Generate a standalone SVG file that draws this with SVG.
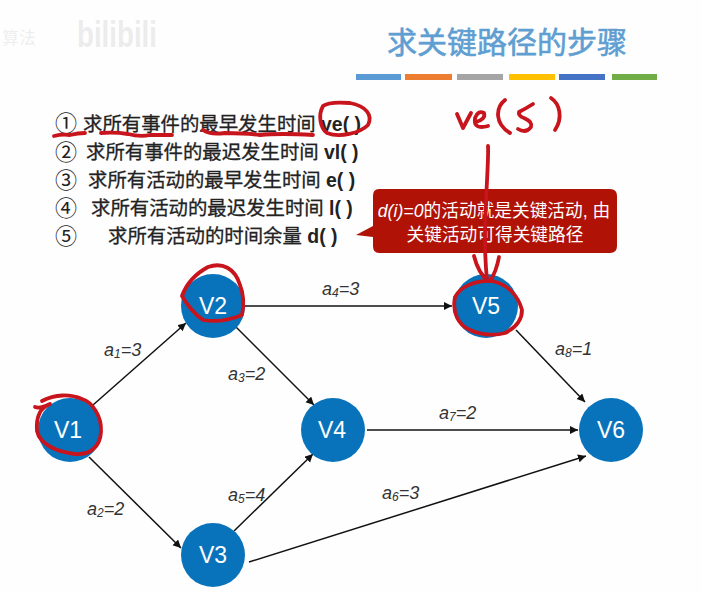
<svg xmlns="http://www.w3.org/2000/svg" width="702" height="593" viewBox="0 0 702 593">
<style>
text{font-family:"Liberation Sans","Noto Sans CJK SC",sans-serif}
.step{font-size:19.4px;fill:#222;stroke:#222;stroke-width:.3}
.lat{font-weight:bold;stroke:none}
.num{font-size:22px;fill:#222}
.n{fill:#0873bb}
.nt{font-size:23px;fill:#fff;text-anchor:middle}
.lb{font-size:18px;font-style:italic;fill:#333}
.sub{font-size:12px}
.e{stroke:#111;stroke-width:1.5;fill:none;marker-end:url(#ah)}
.ink{stroke:#c8141c;stroke-width:3.8;fill:none;stroke-linecap:round;stroke-linejoin:round}
.ct{font-size:17.7px;fill:#fff;text-anchor:middle}
</style>
<defs>
<marker id="ah" markerUnits="userSpaceOnUse" markerWidth="10" markerHeight="10" refX="8" refY="4" orient="auto"><path d="M0,0L8,4L0,8z" fill="#111"/></marker>
</defs>
<rect width="702" height="593" fill="#fefefe"/>
<g id="watermark" opacity=".13"><text x="2" y="44" font-size="17" fill="#888">算法</text><text x="77" y="47" font-size="36" font-weight="bold" fill="#777" textLength="80" lengthAdjust="spacingAndGlyphs">bilibili</text></g>
<g id="title"><text x="507" y="53" font-size="30" fill="#5f9ed1" text-anchor="middle" stroke="#5f9ed1" stroke-width=".6">求关键路径的步骤</text>
<rect x="356" y="74" width="45" height="6" fill="#5b9bd5"/><rect x="405" y="74" width="47" height="6" fill="#ed7d31"/><rect x="457" y="74" width="46" height="6" fill="#a5a5a5"/><rect x="509" y="74" width="46" height="6" fill="#ffc000"/><rect x="559" y="74" width="46" height="6" fill="#4472c4"/><rect x="612" y="74" width="45" height="6" fill="#70ad47"/></g>
<g id="steps">
<text class="num" x="55" y="131">①</text><text class="step" x="83" y="131">求所有事件的最早发生时间 <tspan class="lat">ve( )</tspan></text>
<text class="num" x="55" y="160">②</text><text class="step" x="86" y="159">求所有事件的最迟发生时间 <tspan class="lat">vl( )</tspan></text>
<text class="num" x="55" y="188">③</text><text class="step" x="88" y="187">求所有活动的最早发生时间 <tspan class="lat">e( )</tspan></text>
<text class="num" x="55" y="216">④</text><text class="step" x="91" y="215">求所有活动的最迟发生时间 <tspan class="lat">l( )</tspan></text>
<text class="num" x="55" y="244">⑤</text><text class="step" x="108" y="243">求所有活动的时间余量 <tspan class="lat">d( )</tspan></text>
</g>
<g id="connectors">
<path class="e" d="M93,405L186,323"/>
<path class="e" d="M89,457L181,548"/>
<path class="e" d="M236,327L314,405"/>
<path class="e" d="M234,531L313,454"/>
<path class="e" d="M245,306L452,306"/>
<path class="e" d="M367,430L578,430"/>
<path class="e" d="M249,562L586,456"/>
<path class="e" d="M516,330L585,402"/>
</g>
<g id="labels">
<text class="lb" x="104" y="356">a<tspan class="sub" dy="2">1</tspan><tspan dy="-2">=3</tspan></text>
<text class="lb" x="87" y="515">a<tspan class="sub" dy="2">2</tspan><tspan dy="-2">=2</tspan></text>
<text class="lb" x="228" y="380">a<tspan class="sub" dy="2">3</tspan><tspan dy="-2">=2</tspan></text>
<text class="lb" x="322" y="295">a<tspan class="sub" dy="2">4</tspan><tspan dy="-2">=3</tspan></text>
<text class="lb" x="228" y="501">a<tspan class="sub" dy="2">5</tspan><tspan dy="-2">=4</tspan></text>
<text class="lb" x="382" y="499">a<tspan class="sub" dy="2">6</tspan><tspan dy="-2">=3</tspan></text>
<text class="lb" x="439" y="419">a<tspan class="sub" dy="2">7</tspan><tspan dy="-2">=2</tspan></text>
<text class="lb" x="555" y="355">a<tspan class="sub" dy="2">8</tspan><tspan dy="-2">=1</tspan></text>
</g>
<g id="V1"><circle class="n" cx="70" cy="430" r="32"/><text class="nt" x="68" y="438">V1</text></g>
<g id="V2"><circle class="n" cx="213" cy="306" r="32"/><text class="nt" x="213" y="314">V2</text></g>
<g id="V3"><circle class="n" cx="213" cy="555" r="32"/><text class="nt" x="213" y="563">V3</text></g>
<g id="V4"><circle class="n" cx="333" cy="430" r="32"/><text class="nt" x="332" y="438">V4</text></g>
<g id="V5"><circle class="n" cx="486" cy="306" r="32"/><text class="nt" x="486" y="314">V5</text></g>
<g id="V6"><circle class="n" cx="611" cy="430" r="32"/><text class="nt" x="611" y="438">V6</text></g>
<g id="callout">
<path d="M379,189H610Q617,189 617,196V246Q617,253 610,253H379Q373,253 373,246V237L356,235L373,226V196Q373,189 379,189Z" fill="#b01205"/>
<text class="ct" x="494" y="217"><tspan font-style="italic">d(i)=0</tspan>的活动就是关键活动, 由</text>
<text class="ct" x="495" y="241">关键活动可得关键路径</text>
</g>
<g id="ink">
<path class="ink" d="M54,136Q62,134 70,135Q78,133 85,133"/>
<path class="ink" d="M101,133Q115,132 128,134Q140,137 150,135L172,135"/>
<path class="ink" d="M203,130Q210,135 225,133Q245,133 260,135Q280,133 313,135"/>
<path class="ink" d="M323,106C318,115 320,128 327,133C340,138 360,133 368,125C373,115 366,106 350,103C338,102 328,102 323,106Z"/>
<path class="ink" d="M35,407Q40,409 50,404C39,408 36,418 37,431C40,445 58,452 75,454C90,455 100,447 101,432C102,416 92,402 82,399C70,394 55,394 42,401"/>
<path class="ink" d="M182,296C186,285 195,274 208,267C222,262 235,268 240,285C244,295 244,305 242,315C230,320 215,322 203,320C192,312 186,303 182,296Z"/>
<path class="ink" d="M455,297C460,287 475,280 492,281C507,284 518,295 522,310C522,320 515,328 505,333C495,336 480,335 470,330C458,325 452,312 455,297Z"/>
<path class="ink" d="M488,146C489,160 485,200 485,240C485,255 486,270 487,281M474,256C477,268 482,276 488,281M499,257C497,268 494,275 490,281"/>
<path class="ink" d="M457,114L463,128L471,113M476,122Q486,119 484,113Q478,110 475,118Q473,130 488,126"/>
<path class="ink" d="M505,100C495,108 495,124 510,133"/>
<path class="ink" d="M533,104Q525,109 519,112Q518,116 524,118Q533,122 531,127Q526,134 518,129"/>
<path class="ink" d="M551,98C560,104 563,118 555,130"/>
</g>
</svg>
